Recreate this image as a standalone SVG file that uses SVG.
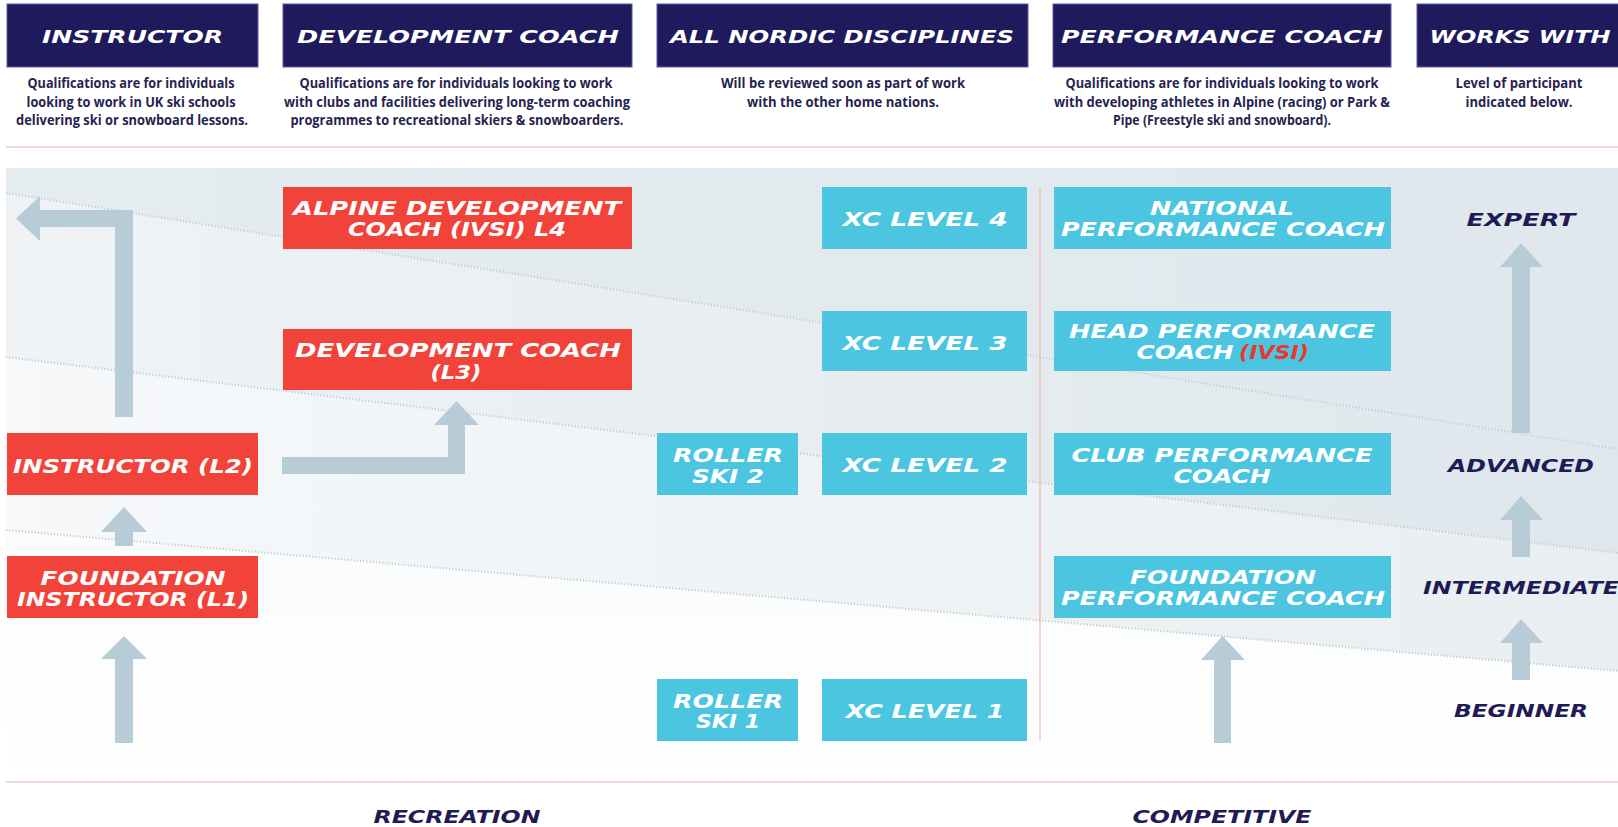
<svg xmlns="http://www.w3.org/2000/svg" width="1618" height="827" viewBox="0 0 1618 827">
<defs>
<linearGradient id="gA" x1="0" y1="0" x2="1" y2="0"><stop offset="0" stop-color="#e5ecf0"/><stop offset="1" stop-color="#e0e8ed"/></linearGradient>
<linearGradient id="gB" x1="0" y1="0" x2="1" y2="0"><stop offset="0" stop-color="#eff3f6"/><stop offset="1" stop-color="#dfe7ec"/></linearGradient>
<linearGradient id="gC" x1="0" y1="0" x2="1" y2="0"><stop offset="0" stop-color="#f6f8fa"/><stop offset="1" stop-color="#e8eef1"/></linearGradient>
<linearGradient id="gD" x1="0" y1="0" x2="0" y2="1"><stop offset="0" stop-color="#fafbfc"/><stop offset="1" stop-color="#ffffff"/></linearGradient>
<style>
.hdr{fill:#1e1a5c;stroke:#5b589c;stroke-width:1}
.ht{font-family:"DejaVu Sans","Liberation Sans",sans-serif;font-weight:bold;font-style:italic;font-size:18px;fill:#ffffff;text-anchor:middle}
.desc{font-family:"Open Sans","Noto Sans",sans-serif;font-weight:700;font-size:13.5px;fill:#26244f;text-anchor:middle}
.red{fill:#f2433a}
.cyan{fill:#4cc5e1}
.nt{font-family:"DejaVu Sans","Liberation Sans",sans-serif;font-weight:bold;font-style:italic;font-size:19.5px;fill:#ffffff;text-anchor:middle}
.lvl{font-family:"DejaVu Sans","Liberation Sans",sans-serif;font-weight:bold;font-style:italic;font-size:17px;fill:#1f1b55;text-anchor:middle}
.arr{fill:#b7ccd6}
.dot{fill:none;stroke:#bfcbd3;stroke-width:2;stroke-dasharray:1.2 2}
.sep{stroke:#f1d8d2;stroke-width:2}
</style>
</defs>
<rect width="1618" height="827" fill="#ffffff"/>
<g id="background">
<polygon points="6,168 1618,168 1618,449 6,193" fill="url(#gA)"/>
<polygon points="6,193 1618,449 1618,553 6,357" fill="url(#gB)"/>
<polygon points="6,357 1618,553 1618,671 6,530" fill="url(#gC)"/>
<polygon points="6,530 1618,671 1618,781 6,781" fill="url(#gD)"/>
<line class="dot" x1="6" y1="193" x2="1618" y2="449"/>
<line class="dot" x1="6" y1="357" x2="1618" y2="553"/>
<line class="dot" x1="6" y1="530" x2="1618" y2="671"/>
<line class="sep" x1="6" y1="147" x2="1618" y2="147"/>
<line class="sep" x1="6" y1="782" x2="1618" y2="782"/>
<line x1="1040" y1="187" x2="1040" y2="741" stroke="#f0aaa2" stroke-width="1"/>
</g>
<g id="headers">
<g id="h-instructor"><rect class="hdr" x="7" y="4" width="251" height="63"/><text class="ht" x="132.5" y="43" textLength="181" lengthAdjust="spacingAndGlyphs">INSTRUCTOR</text>
<text class="desc" y="88"><tspan x="131" textLength="207" lengthAdjust="spacingAndGlyphs">Qualifications are for individuals</tspan></text>
<text class="desc" y="106.5"><tspan x="131" textLength="209" lengthAdjust="spacingAndGlyphs">looking to work in UK ski schools</tspan></text>
<text class="desc" y="125"><tspan x="132" textLength="232" lengthAdjust="spacingAndGlyphs">delivering ski or snowboard lessons.</tspan></text></g>
<g id="h-development"><rect class="hdr" x="283" y="4" width="349" height="63"/><text class="ht" x="458" y="43" textLength="322" lengthAdjust="spacingAndGlyphs">DEVELOPMENT COACH</text>
<text class="desc" y="88"><tspan x="456" textLength="313" lengthAdjust="spacingAndGlyphs">Qualifications are for individuals looking to work</tspan></text>
<text class="desc" y="106.5"><tspan x="457" textLength="346" lengthAdjust="spacingAndGlyphs">with clubs and facilities delivering long-term coaching</tspan></text>
<text class="desc" y="125"><tspan x="457" textLength="333" lengthAdjust="spacingAndGlyphs">programmes to recreational skiers &amp; snowboarders.</tspan></text></g>
<g id="h-nordic"><rect class="hdr" x="657" y="4" width="371" height="63"/><text class="ht" x="842" y="43" textLength="344" lengthAdjust="spacingAndGlyphs">ALL NORDIC DISCIPLINES</text>
<text class="desc" y="88"><tspan x="843" textLength="244" lengthAdjust="spacingAndGlyphs">Will be reviewed soon as part of work</tspan></text>
<text class="desc" y="106.5"><tspan x="843" textLength="192" lengthAdjust="spacingAndGlyphs">with the other home nations.</tspan></text></g>
<g id="h-performance"><rect class="hdr" x="1053" y="4" width="338" height="63"/><text class="ht" x="1222" y="43" textLength="322" lengthAdjust="spacingAndGlyphs">PERFORMANCE COACH</text>
<text class="desc" y="88"><tspan x="1222" textLength="313" lengthAdjust="spacingAndGlyphs">Qualifications are for individuals looking to work</tspan></text>
<text class="desc" y="106.5"><tspan x="1222" textLength="336" lengthAdjust="spacingAndGlyphs">with developing athletes in Alpine (racing) or Park &amp;</tspan></text>
<text class="desc" y="125"><tspan x="1222" textLength="218" lengthAdjust="spacingAndGlyphs">Pipe (Freestyle ski and snowboard).</tspan></text></g>
<g id="h-works"><rect class="hdr" x="1417" y="4" width="205" height="63"/><text class="ht" x="1520" y="43" textLength="181" lengthAdjust="spacingAndGlyphs">WORKS WITH</text>
<text class="desc" y="88"><tspan x="1519" textLength="127" lengthAdjust="spacingAndGlyphs">Level of participant</tspan></text>
<text class="desc" y="106.5"><tspan x="1519" textLength="107" lengthAdjust="spacingAndGlyphs">indicated below.</tspan></text></g>
</g>
<g id="connectors">
<polygon class="arr" points="133,417 133,210 40,210 40,196 16,218.5 40,241 40,227 115,227 115,417"/>
<polygon class="arr" points="282,457 448,457 448,425 434,425 456.5,401 479,425 465,425 465,474 282,474"/>
<polygon class="arr" points="115,546 115,532 101,532 124,507 147,532 133,532 133,546"/>
<polygon class="arr" points="115,743 115,659 101,659 124,636 147,659 133,659 133,743"/>
<polygon class="arr" points="1214,743 1214,660 1201,660 1222.5,636 1245,660 1231,660 1231,743"/>
<polygon class="arr" points="1512,680 1512,643 1500,643 1521,619 1543,643 1530,643 1530,680"/>
<polygon class="arr" points="1512,557 1512,520 1500,520 1521,496 1543,520 1530,520 1530,557"/>
<polygon class="arr" points="1512,433 1512,267 1500,267 1521,243 1543,267 1530,267 1530,433"/>
</g>
<g id="n-alpine-dev"><rect class="red" x="283" y="187" width="349" height="62"/><text class="nt" x="457" y="215" textLength="328" lengthAdjust="spacingAndGlyphs">ALPINE DEVELOPMENT</text><text class="nt" x="457" y="236" textLength="218" lengthAdjust="spacingAndGlyphs">COACH (IVSI) L4</text></g>
<g id="n-dev-coach"><rect class="red" x="283" y="329" width="349" height="61"/><text class="nt" x="458" y="357" textLength="326" lengthAdjust="spacingAndGlyphs">DEVELOPMENT COACH</text><text class="nt" x="456" y="379" textLength="51" lengthAdjust="spacingAndGlyphs">(L3)</text></g>
<g id="n-instructor-l2"><rect class="red" x="7" y="433" width="251" height="62"/><text class="nt" x="133" y="473" textLength="240" lengthAdjust="spacingAndGlyphs">INSTRUCTOR (L2)</text></g>
<g id="n-instructor-l1"><rect class="red" x="7" y="556" width="251" height="62"/><text class="nt" x="133" y="585" textLength="185" lengthAdjust="spacingAndGlyphs">FOUNDATION</text><text class="nt" x="133" y="606" textLength="232" lengthAdjust="spacingAndGlyphs">INSTRUCTOR (L1)</text></g>
<g id="n-roller2"><rect class="cyan" x="657" y="433" width="141" height="62"/><text class="nt" x="728" y="462" textLength="110" lengthAdjust="spacingAndGlyphs">ROLLER</text><text class="nt" x="728" y="483" textLength="72" lengthAdjust="spacingAndGlyphs">SKI 2</text></g>
<g id="n-roller1"><rect class="cyan" x="657" y="679" width="141" height="62"/><text class="nt" x="728" y="708" textLength="110" lengthAdjust="spacingAndGlyphs">ROLLER</text><text class="nt" x="728" y="728" textLength="64" lengthAdjust="spacingAndGlyphs">SKI 1</text></g>
<g id="n-xc4"><rect class="cyan" x="822" y="187" width="205" height="62"/><text class="nt" x="925" y="226" textLength="165" lengthAdjust="spacingAndGlyphs">XC LEVEL 4</text></g>
<g id="n-xc3"><rect class="cyan" x="822" y="311" width="205" height="60"/><text class="nt" x="925" y="350" textLength="165" lengthAdjust="spacingAndGlyphs">XC LEVEL 3</text></g>
<g id="n-xc2"><rect class="cyan" x="822" y="433" width="205" height="62"/><text class="nt" x="925" y="472" textLength="165" lengthAdjust="spacingAndGlyphs">XC LEVEL 2</text></g>
<g id="n-xc1"><rect class="cyan" x="822" y="679" width="205" height="62"/><text class="nt" x="925" y="718" textLength="159" lengthAdjust="spacingAndGlyphs">XC LEVEL 1</text></g>
<g id="n-national"><rect class="cyan" x="1054" y="187" width="337" height="62"/><text class="nt" x="1222" y="215" textLength="144" lengthAdjust="spacingAndGlyphs">NATIONAL</text><text class="nt" x="1223" y="236" textLength="324" lengthAdjust="spacingAndGlyphs">PERFORMANCE COACH</text></g>
<g id="n-head"><rect class="cyan" x="1054" y="311" width="337" height="60"/><text class="nt" x="1222" y="338" textLength="306" lengthAdjust="spacingAndGlyphs">HEAD PERFORMANCE</text><text class="nt" x="1185" y="359" textLength="97" lengthAdjust="spacingAndGlyphs">COACH</text><text class="nt" x="1274" y="359" textLength="70" lengthAdjust="spacingAndGlyphs" style="fill:#e8392f">(IVSI)</text></g>
<g id="n-club"><rect class="cyan" x="1054" y="433" width="337" height="62"/><text class="nt" x="1222" y="462" textLength="301" lengthAdjust="spacingAndGlyphs">CLUB PERFORMANCE</text><text class="nt" x="1222" y="483" textLength="97" lengthAdjust="spacingAndGlyphs">COACH</text></g>
<g id="n-foundation-perf"><rect class="cyan" x="1054" y="556" width="337" height="62"/><text class="nt" x="1223" y="584" textLength="186" lengthAdjust="spacingAndGlyphs">FOUNDATION</text><text class="nt" x="1223" y="605" textLength="324" lengthAdjust="spacingAndGlyphs">PERFORMANCE COACH</text></g>
<g id="levels">
<text class="lvl" x="1521" y="226" textLength="109" lengthAdjust="spacingAndGlyphs">EXPERT</text>
<text class="lvl" x="1521" y="472" textLength="146" lengthAdjust="spacingAndGlyphs">ADVANCED</text>
<text class="lvl" x="1521" y="594" textLength="196" lengthAdjust="spacingAndGlyphs">INTERMEDIATE</text>
<text class="lvl" x="1521" y="717" textLength="134" lengthAdjust="spacingAndGlyphs">BEGINNER</text>
<text class="lvl" x="457" y="823" textLength="167" lengthAdjust="spacingAndGlyphs">RECREATION</text>
<text class="lvl" x="1222" y="823" textLength="179" lengthAdjust="spacingAndGlyphs">COMPETITIVE</text>
</g>
</svg>
